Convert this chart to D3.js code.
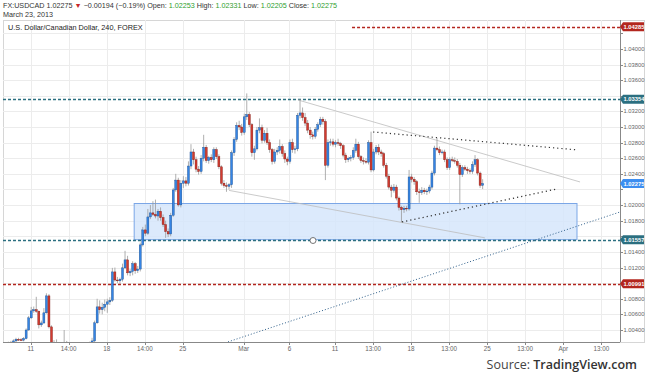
<!DOCTYPE html>
<html>
<head>
<meta charset="utf-8">
<script src="https://cdn.jsdelivr.net/npm/d3@7/dist/d3.min.js"></script>
<style>
  html, body { margin: 0; padding: 0; background: #fff; }
  svg { display: block; font-family: "Liberation Sans", Arial, sans-serif; }
  .tick-x { font-size: 6.3px; fill: #666; }
  .tick-y { font-size: 5.8px; fill: #666; }
</style>
</head>
<body>
<div id="chart"></div>
<script>
/* USDCAD 4h candles, bar index 0 = Mon Feb 11 2013 */
const firstBar = -10;
const bars = [
  [1.00200,1.00230,1.00170,1.00210],[1.00210,1.00250,1.00190,1.00230],[1.00230,1.00260,1.00200,1.00240],
  [1.00240,1.00280,1.00220,1.00260],[1.00260,1.00300,1.00240,1.00280],[1.00280,1.00300,1.00260,1.00275],
  [1.00275,1.00295,1.00260,1.00270],[1.00270,1.00310,1.00255,1.00290],[1.00290,1.00420,1.00280,1.00400],
  [1.00400,1.00580,1.00390,1.00556],[1.00556,1.00696,1.00540,1.00645],[1.00645,1.00700,1.00620,1.00660],
  [1.00660,1.00825,1.00620,1.00640],[1.00640,1.00650,1.00420,1.00466],[1.00466,1.00520,1.00440,1.00490],
  [1.00490,1.00680,1.00480,1.00620],[1.00620,1.00870,1.00610,1.00837],[1.00837,1.00860,1.00420,1.00440],
  [1.00440,1.00460,1.00150,1.00180],[1.00180,1.00270,1.00120,1.00220],[1.00220,1.00280,1.00150,1.00190],
  [1.00190,1.00230,1.00100,1.00140],[1.00140,1.00200,1.00080,1.00110],[1.00110,1.00400,1.00090,1.00210],
  [1.00210,1.00260,1.00120,1.00150],[1.00150,1.00190,1.00080,1.00120],[1.00120,1.00160,1.00050,1.00090],
  [1.00090,1.00140,1.00030,1.00110],[1.00110,1.00180,1.00060,1.00140],[1.00140,1.00200,1.00100,1.00170],
  [1.00170,1.00220,1.00120,1.00160],[1.00160,1.00210,1.00110,1.00180],[1.00180,1.00230,1.00130,1.00200],
  [1.00200,1.00250,1.00160,1.00220],[1.00220,1.00300,1.00190,1.00260],[1.00260,1.00520,1.00240,1.00492],
  [1.00492,1.00800,1.00480,1.00696],[1.00696,1.00780,1.00610,1.00660],[1.00660,1.00750,1.00600,1.00690],
  [1.00690,1.00790,1.00640,1.00730],[1.00730,1.00800,1.00620,1.00760],[1.00760,1.00820,1.00720,1.00780],
  [1.00780,1.01196,1.00760,1.01144],[1.01144,1.01200,1.01020,1.01040],[1.01040,1.01080,1.01000,1.01030],
  [1.01030,1.01070,1.00990,1.01050],[1.01050,1.01250,1.01020,1.01196],[1.01196,1.01414,1.01180,1.01298],
  [1.01298,1.01350,1.01100,1.01132],[1.01132,1.01180,1.01090,1.01150],[1.01150,1.01280,1.01100,1.01250],
  [1.01250,1.01270,1.01120,1.01160],[1.01160,1.01220,1.01130,1.01180],[1.01180,1.01520,1.01150,1.01490],
  [1.01490,1.01720,1.01470,1.01682],[1.01682,1.01750,1.01600,1.01640],[1.01640,1.01950,1.01620,1.01848],
  [1.01848,1.02000,1.01820,1.01900],[1.01900,1.02050,1.01860,1.01880],[1.01880,1.02070,1.01830,1.01860],
  [1.01860,1.01950,1.01800,1.01920],[1.01920,1.01970,1.01800,1.01840],[1.01840,1.01880,1.01720,1.01750],
  [1.01750,1.01800,1.01580,1.01660],[1.01660,1.01700,1.01590,1.01630],[1.01630,1.01900,1.01600,1.01870],
  [1.01870,1.02220,1.01850,1.02194],[1.02194,1.02400,1.02170,1.02320],[1.02320,1.02350,1.01980,1.02002],
  [1.02002,1.02320,1.01970,1.02280],[1.02280,1.02370,1.02220,1.02310],[1.02310,1.02360,1.02240,1.02280],
  [1.02280,1.02560,1.02250,1.02500],[1.02500,1.02780,1.02460,1.02680],[1.02680,1.02720,1.02520,1.02580],
  [1.02580,1.02620,1.02420,1.02460],[1.02460,1.02500,1.02390,1.02430],[1.02430,1.02640,1.02400,1.02600],
  [1.02600,1.02900,1.02560,1.02740],[1.02740,1.02770,1.02540,1.02570],[1.02570,1.02630,1.02530,1.02610],
  [1.02610,1.02650,1.02550,1.02580],[1.02580,1.02740,1.02540,1.02710],[1.02710,1.02740,1.02590,1.02620],
  [1.02620,1.02650,1.02460,1.02490],[1.02490,1.02510,1.02250,1.02280],[1.02280,1.02320,1.02220,1.02250],
  [1.02250,1.02290,1.02170,1.02240],[1.02240,1.02280,1.02200,1.02260],[1.02260,1.02700,1.02220,1.02670],
  [1.02670,1.02870,1.02630,1.02840],[1.02840,1.03060,1.02810,1.03020],[1.03020,1.03080,1.02960,1.03000],
  [1.03000,1.03040,1.02890,1.02930],[1.02930,1.03170,1.02900,1.03130],[1.03130,1.03430,1.03090,1.03160],
  [1.03160,1.03190,1.03000,1.03030],[1.03030,1.03050,1.02620,1.02670],[1.02670,1.02760,1.02580,1.02720],
  [1.02720,1.03000,1.02700,1.02960],[1.02960,1.03110,1.02920,1.02990],[1.02990,1.03030,1.02790,1.02830],
  [1.02830,1.02960,1.02800,1.02920],[1.02920,1.02990,1.02770,1.02800],[1.02800,1.02840,1.02670,1.02710],
  [1.02710,1.02730,1.02520,1.02560],[1.02560,1.02720,1.02530,1.02680],[1.02680,1.02740,1.02640,1.02700],
  [1.02700,1.02840,1.02660,1.02750],[1.02750,1.02780,1.02620,1.02660],[1.02660,1.02700,1.02540,1.02590],
  [1.02590,1.02620,1.02510,1.02560],[1.02560,1.02840,1.02530,1.02800],[1.02800,1.02850,1.02670,1.02710],
  [1.02710,1.02760,1.02660,1.02720],[1.02720,1.03180,1.02690,1.03150],[1.03150,1.03360,1.03110,1.03180],
  [1.03180,1.03250,1.03080,1.03120],[1.03120,1.03180,1.03010,1.03050],[1.03050,1.03090,1.02920,1.02960],
  [1.02960,1.03000,1.02850,1.02900],[1.02900,1.02940,1.02840,1.02880],[1.02880,1.03000,1.02850,1.02970],
  [1.02970,1.03060,1.02940,1.03030],[1.03030,1.03130,1.03000,1.03100],[1.03100,1.03130,1.03030,1.03070],
  [1.03070,1.03100,1.02320,1.02510],[1.02510,1.02840,1.02480,1.02800],[1.02800,1.02850,1.02760,1.02810],
  [1.02810,1.02850,1.02750,1.02780],[1.02780,1.02830,1.02740,1.02800],[1.02800,1.02850,1.02760,1.02790],
  [1.02790,1.02810,1.02720,1.02760],[1.02760,1.02780,1.02610,1.02640],[1.02640,1.02670,1.02540,1.02580],
  [1.02580,1.02620,1.02550,1.02600],[1.02600,1.02640,1.02560,1.02610],[1.02610,1.02740,1.02580,1.02700],
  [1.02700,1.02850,1.02670,1.02780],[1.02780,1.02810,1.02590,1.02620],[1.02620,1.02640,1.02540,1.02570],
  [1.02570,1.02610,1.02520,1.02560],[1.02560,1.02600,1.02530,1.02550],[1.02550,1.02830,1.02520,1.02800],
  [1.02800,1.02940,1.02420,1.02450],[1.02450,1.02720,1.02430,1.02680],[1.02680,1.02770,1.02650,1.02740],
  [1.02740,1.02780,1.02640,1.02680],[1.02680,1.02710,1.02620,1.02660],[1.02660,1.02680,1.02480,1.02510],
  [1.02510,1.02540,1.02340,1.02370],[1.02370,1.02400,1.02200,1.02230],[1.02230,1.02260,1.02100,1.02190],
  [1.02190,1.02270,1.02160,1.02230],[1.02230,1.02260,1.02060,1.02090],[1.02090,1.02110,1.01930,1.01970],
  [1.01970,1.01990,1.01780,1.01940],[1.01940,1.01990,1.01900,1.01960],[1.01960,1.01990,1.01920,1.01950],
  [1.01950,1.02450,1.01930,1.02360],[1.02360,1.02400,1.02290,1.02330],[1.02330,1.02360,1.02260,1.02300],
  [1.02300,1.02320,1.02130,1.02170],[1.02170,1.02210,1.02030,1.02160],[1.02160,1.02230,1.02130,1.02190],
  [1.02190,1.02220,1.02140,1.02170],[1.02170,1.02210,1.02130,1.02180],[1.02180,1.02260,1.02150,1.02230],
  [1.02230,1.02440,1.02200,1.02410],[1.02410,1.02760,1.02380,1.02730],[1.02730,1.02860,1.02690,1.02710],
  [1.02710,1.02750,1.02640,1.02670],[1.02670,1.02710,1.02650,1.02680],[1.02680,1.02710,1.02550,1.02580],
  [1.02580,1.02610,1.02450,1.02480],[1.02480,1.02610,1.02450,1.02580],[1.02580,1.02620,1.02550,1.02570],
  [1.02570,1.02610,1.02530,1.02560],[1.02560,1.02590,1.02480,1.02510],[1.02510,1.02540,1.02010,1.02390],
  [1.02390,1.02510,1.02360,1.02480],[1.02480,1.02510,1.02440,1.02460],[1.02460,1.02490,1.02400,1.02440],
  [1.02440,1.02470,1.02400,1.02430],[1.02430,1.02560,1.02400,1.02520],[1.02520,1.02640,1.02490,1.02580],
  [1.02580,1.02600,1.02380,1.02410],[1.02410,1.02430,1.02220,1.02253],[1.02253,1.02331,1.02205,1.02275]
];

/* time axis: bar index -> label */
const timeTicks = [0, 15, 30, 45, 60, 84, 102, 120, 135, 150, 165, 180, 195, 210, 225];
const timeLabels = ["11", "14:00", "18", "14:00", "25", "Mar", "6", "11", "13:00", "18", "13:00", "25", "13:00", "Apr", "13:00"];

/* price axis */
const priceTicks = [1.004, 1.006, 1.008, 1.010, 1.012, 1.014, 1.016, 1.018, 1.020, 1.022,
                    1.024, 1.026, 1.028, 1.030, 1.032, 1.034, 1.036, 1.038, 1.040, 1.042];

/* horizontal levels: price, colour, first bar index (null = from left edge) */
const levelPrices = [1.04285, 1.03354, 1.01557, 1.00991];
const levelColors = ["#b3261e", "#2b6f80", "#2b6f80", "#b3261e"];
const levelStart = [126.7, null, null, null];
const lastPrice = 1.02275;

/* support zone (bar index / price) */
const zone = { k0: 40.8, k1: 215.4, p0: 1.01557, p1: 1.02020 };

/* trend lines [k0, p0, k1, p1] */
const greyLines = [[105.4, 1.03346, 216.6, 1.02296], [78.2, 1.02188, 179.1, 1.01580]];
const dottedLines = [[135.0, 1.02936, 215.8, 1.02706], [146.4, 1.01784, 207.5, 1.02207]];
const blueLine = [77.8, 1.00248, 232.4, 1.01912];

const W = 645, H = 376;
const L = 3, R = 620, T = 20, B = 342;

const svg = d3.select("#chart").append("svg").attr("width", W).attr("height", H);

const x = d3.scaleLinear().domain([0, 210]).range([30.7, 563.3]);
const y = d3.scaleLinear().domain([1.004, 1.042]).range([330, 33.3]);

svg.append("defs").append("clipPath").attr("id", "plot")
  .append("rect").attr("x", L).attr("y", T).attr("width", R - L).attr("height", B - T);

/* header */
const hdr = svg.append("text").attr("x", 3).attr("y", 8).attr("font-size", 7.2).attr("fill", "#333");
hdr.append("tspan").text("FX:USDCAD ");
hdr.append("tspan").text("1.02275 ");
hdr.append("tspan").attr("fill", "#c62828").text("\u25BC");
hdr.append("tspan").text(" \u22120.00194 (\u22120.19%)  ");
[["Open:", "1.02253"], ["High:", "1.02331"], ["Low:", "1.02205"], ["Close:", "1.02275"]].forEach(([a, b]) => {
  hdr.append("tspan").text(" " + a + " ");
  hdr.append("tspan").attr("fill", "#2e9e2e").text(b + " ");
});
svg.append("text").attr("x", 3).attr("y", 16.5).attr("font-size", 7.2).attr("fill", "#333").text("March 23, 2013");

/* panel frame + grid */
svg.append("rect").attr("x", L + 0.5).attr("y", T + 0.5).attr("width", W - L - 1).attr("height", B - T)
  .attr("fill", "none").attr("stroke", "#d6d6d6");

const grid = svg.append("g").attr("stroke", "#ececec").attr("stroke-width", 1);
grid.selectAll(".gy").data(priceTicks).join("line")
  .attr("x1", L).attr("x2", R).attr("y1", d => Math.round(y(d)) + 0.5).attr("y2", d => Math.round(y(d)) + 0.5);
grid.selectAll(".gx").data(timeTicks).join("line")
  .attr("y1", T).attr("y2", B).attr("x1", d => Math.round(x(d)) + 0.5).attr("x2", d => Math.round(x(d)) + 0.5);

svg.append("text").attr("x", 8).attr("y", 30).attr("font-size", 7.3).attr("fill", "#222")
  .text("U.S. Dollar/Canadian Dollar, 240, FOREX");

const plot = svg.append("g").attr("clip-path", "url(#plot)");

/* support zone */
plot.append("rect")
  .attr("x", x(zone.k0)).attr("y", y(zone.p1))
  .attr("width", x(zone.k1) - x(zone.k0)).attr("height", y(zone.p0) - y(zone.p1))
  .attr("fill", "#d6e6fb").attr("fill-opacity", 0.85).attr("stroke", "#7aa6e6").attr("stroke-width", 1);

/* horizontal levels */
levelPrices.forEach((p, i) => {
  const yy = Math.round(y(p)) + 0.5;
  plot.append("line")
    .attr("x1", levelStart[i] == null ? L : x(levelStart[i])).attr("x2", R)
    .attr("y1", yy).attr("y2", yy)
    .attr("stroke", levelColors[i]).attr("stroke-width", 1.4).attr("stroke-dasharray", "3,2");
});

/* trend lines */
greyLines.forEach(l => plot.append("line")
  .attr("x1", x(l[0])).attr("y1", y(l[1])).attr("x2", x(l[2])).attr("y2", y(l[3]))
  .attr("stroke", "#bdbdbd").attr("stroke-width", 0.8));
plot.append("line")
  .attr("x1", x(blueLine[0])).attr("y1", y(blueLine[1])).attr("x2", x(blueLine[2])).attr("y2", y(blueLine[3]))
  .attr("stroke", "#2f5f8a").attr("stroke-width", 1).attr("stroke-dasharray", "1,2");

/* candles */
const cw = 2;
const candles = plot.append("g").selectAll("g").data(bars).join("g");
candles.append("line")
  .attr("x1", (d, i) => x(firstBar + i) + 0.5).attr("x2", (d, i) => x(firstBar + i) + 0.5)
  .attr("y1", d => y(d[1])).attr("y2", d => y(d[2]))
  .attr("stroke", "#9a9a9a").attr("stroke-width", 0.8);
candles.append("rect")
  .attr("x", (d, i) => x(firstBar + i) + 0.5 - cw / 2)
  .attr("y", d => y(Math.max(d[0], d[3])))
  .attr("width", cw)
  .attr("height", d => Math.max(0.8, Math.abs(y(d[0]) - y(d[3]))))
  .attr("fill", d => d[3] >= d[0] ? "#3584e4" : "#d23a2f")
  .attr("stroke", d => d[3] >= d[0] ? "#1b4f8f" : "#7d1b14")
  .attr("stroke-width", 0.4);

/* dotted black lines drawn on top */
dottedLines.forEach(l => plot.append("line")
  .attr("x1", x(l[0])).attr("y1", y(l[1])).attr("x2", x(l[2])).attr("y2", y(l[3]))
  .attr("stroke", "#333").attr("stroke-width", 1.2).attr("stroke-dasharray", "1.2,3"));

/* handle on support line */
plot.append("circle").attr("cx", 313).attr("cy", Math.round(y(levelPrices[2])) + 0.5).attr("r", 3)
  .attr("fill", "#fff").attr("stroke", "#555").attr("stroke-width", 0.8);

/* axes */
svg.append("line").attr("x1", R + 0.5).attr("x2", R + 0.5).attr("y1", T).attr("y2", B).attr("stroke", "#888");
svg.append("line").attr("x1", L).attr("x2", R).attr("y1", B + 0.5).attr("y2", B + 0.5).attr("stroke", "#888");

/* tick labels hidden where a price tag sits on top of them */
const tagPrices = levelPrices.concat([lastPrice]);
const visibleTicks = priceTicks.filter(t => tagPrices.every(p => Math.abs(y(p) - y(t)) > 8));

const yAxis = svg.append("g");
yAxis.selectAll("line").data(priceTicks).join("line")
  .attr("x1", R).attr("x2", R + 3).attr("y1", d => Math.round(y(d)) + 0.5).attr("y2", d => Math.round(y(d)) + 0.5)
  .attr("stroke", "#888");
yAxis.selectAll("text").data(visibleTicks).join("text").attr("class", "tick-y")
  .attr("x", R + 3.5).attr("y", d => y(d) + 2).text(d => d3.format(".5f")(d));

const xAxis = svg.append("g");
xAxis.selectAll("line").data(timeTicks).join("line")
  .attr("x1", d => Math.round(x(d)) + 0.5).attr("x2", d => Math.round(x(d)) + 0.5).attr("y1", B).attr("y2", B + 3)
  .attr("stroke", "#888");
xAxis.selectAll("text").data(timeTicks).join("text").attr("class", "tick-x")
  .attr("x", d => x(d)).attr("y", 351).attr("text-anchor", "middle").text((d, i) => timeLabels[i]);

/* price tags */
function tag(p, color) {
  const yy = y(p);
  svg.append("path")
    .attr("d", `M${R},${yy} L${R + 3},${yy - 4.5} L${W - 1},${yy - 4.5} L${W - 1},${yy + 4.5} L${R + 3},${yy + 4.5} Z`)
    .attr("fill", color);
  svg.append("text").attr("x", R + 3.5).attr("y", yy + 2.1).attr("font-size", 5.8).attr("font-weight", "bold")
    .attr("fill", "#fff").text(d3.format(".5f")(p));
}
levelPrices.forEach((p, i) => tag(p, levelColors[i]));
tag(lastPrice, "#3d8ef0");

/* source */
const src = svg.append("text").attr("x", 637).attr("y", 369).attr("text-anchor", "end")
  .attr("font-family", "'Open Sans', sans-serif").attr("font-size", 12.5);
src.append("tspan").attr("fill", "#444").text("Source: ");
src.append("tspan").attr("fill", "#333").attr("font-weight", 600).text("TradingView.com");
</script>
</body>
</html>
